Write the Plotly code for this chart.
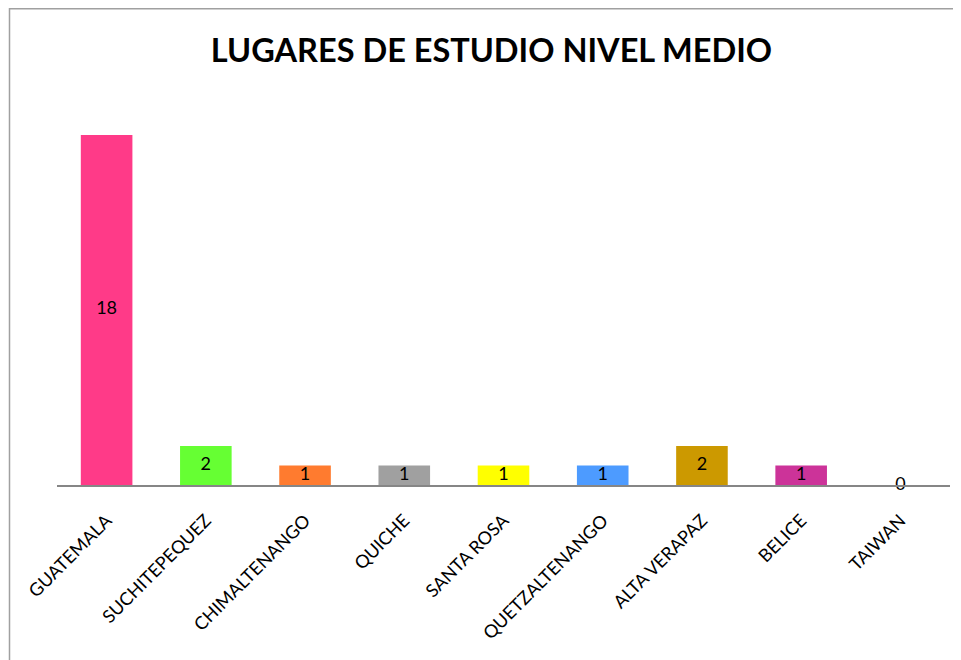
import plotly.graph_objects as go

categories = ["GUATEMALA", "SUCHITEPEQUEZ", "CHIMALTENANGO", "QUICHE", "SANTA ROSA",
              "QUETZALTENANGO", "ALTA VERAPAZ", "BELICE", "TAIWAN"]
values = [18, 2, 1, 1, 1, 1, 2, 1, 0]
colors = ["#FF3A88", "#66FF33", "#FF7B2F", "#A0A0A0", "#FFFF00",
          "#4D9BFF", "#CC9900", "#CC3399", "#7F7F7F"]
title_text = "LUGARES DE ESTUDIO NIVEL MEDIO"

FONT = "Lato, Open Sans, sans-serif"

fig = go.Figure()
fig.add_trace(go.Bar(
    x=categories, y=values, marker=dict(color=colors, line=dict(width=0)),
    width=0.52, hoverinfo="x+y", showlegend=False,
))
fig.add_trace(go.Scatter(
    x=categories, y=[v / 2 for v in values], mode="text",
    text=[str(v) for v in values], textposition="middle center",
    textfont=dict(family=FONT, size=18, color="#000000"),
    hoverinfo="skip", showlegend=False, cliponaxis=False,
))

# page offset of the html body (8px default margin) is compensated here
OFF = 8
W, H = 961, 660
ml, mt = 57 - OFF, 96 - OFF
plot_right, plot_bottom = 950 - OFF, 485 - OFF
mr, mb = W - plot_right, H - plot_bottom
pw, ph = W - ml - mr, H - mt - mb

def px_to_paper_x(px):
    return (px - OFF - ml) / pw

def px_to_paper_y(py):
    return (plot_bottom - (py - OFF)) / ph

# chart-area border (decoration)
fig.add_shape(type="rect", xref="paper", yref="paper",
              x0=px_to_paper_x(9.5), x1=px_to_paper_x(990),
              y0=px_to_paper_y(690), y1=px_to_paper_y(8.8),
              line=dict(color="#A0A0A0", width=1.5), fillcolor="rgba(0,0,0,0)", layer="below")

fig.update_layout(
    width=W, height=H,
    margin=dict(l=ml, r=mr, t=mt, b=mb),
    paper_bgcolor="white", plot_bgcolor="white",
    title=dict(text="<b>" + title_text + "</b>", x=(491.5 - OFF) / W, xref="container",
               xanchor="center", y=1 - (51 - OFF) / H, yanchor="middle",
               font=dict(family=FONT, size=32.5, color="#000000")),
    xaxis=dict(showline=True, linecolor="#868686", linewidth=2, ticks="",
               tickangle=-45, showgrid=False, zeroline=False, ticklabelstandoff=16,
               tickfont=dict(family=FONT, size=18, color="#000000")),
    yaxis=dict(range=[0, 20], visible=False, showgrid=False, zeroline=False),
    bargap=0.48,
)

fig.write_html("out.html")
